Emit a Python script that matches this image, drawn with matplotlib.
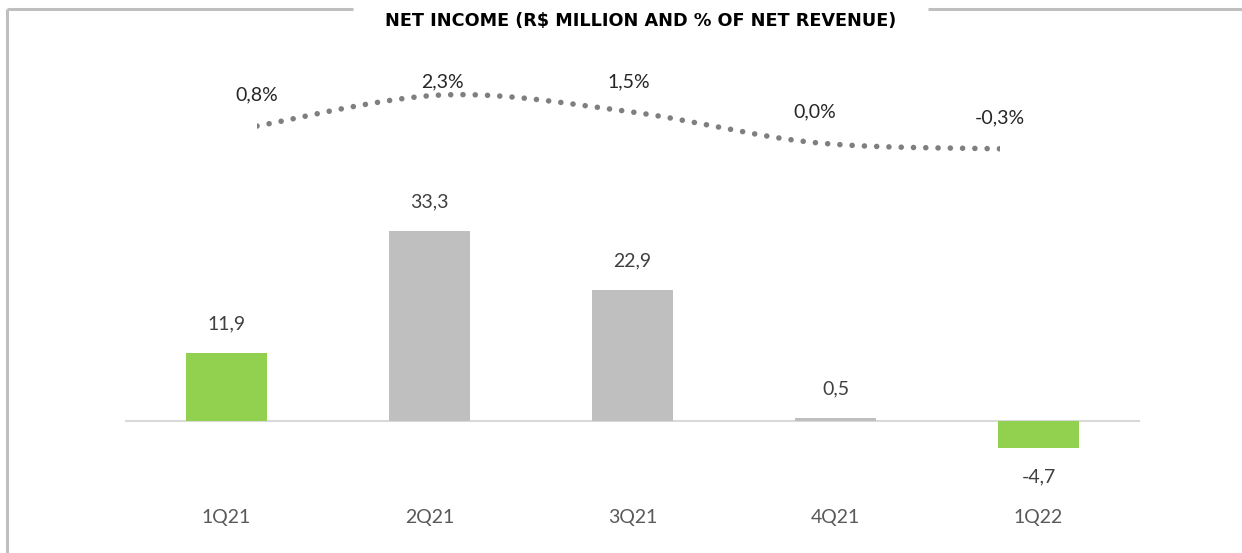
import numpy as np
import matplotlib
matplotlib.use('Agg')
import matplotlib.pyplot as plt

quarters = ['1Q21', '2Q21', '3Q21', '4Q21', '1Q22']
netIncome = [11.9, 33.3, 22.9, 0.5, -4.7]
netMargin = [0.8, 2.3, 1.5, 0.0, -0.3]
barColors = ['#92D050', '#BFBFBF', '#BFBFBF', '#BFBFBF', '#92D050']

plt.rcParams['font.family'] = ['Lato', 'DejaVu Sans']

W, H = 1242, 553
fig = plt.figure(figsize=(W / 100, H / 100), dpi=100)


def pxBox(x0, y0, x1, y1):
    # pixel box (top-left origin) -> figure fraction rect
    return [x0 / W, 1 - y1 / H, (x1 - x0) / W, (y1 - y0) / H]


# frame around the chart
frame = fig.add_axes([0, 0, 1, 1])
frame.set_xlim(0, W)
frame.set_ylim(H, 0)
frame.axis('off')
frame.plot([7, 353], [9, 9], color='#BFBFBF', lw=2.2, solid_capstyle='butt')
frame.plot([928, W], [9, 9], color='#BFBFBF', lw=2.2, solid_capstyle='butt')
frame.plot([7, 7], [9, H], color='#BFBFBF', lw=2.2, solid_capstyle='butt')
frame.text(641, 21, r'NET INCOME (R\$ MILLION AND % OF NET REVENUE)', ha='center', va='center',
           fontsize=12.7, fontweight='bold', color='#000000', family=['DejaVu Sans'])

# bars
ax = fig.add_axes(pxBox(125, 60, 1140, 480))
x = np.arange(len(quarters))
ax.bar(x, netIncome, width=0.40, color=barColors, zorder=2)
ax.axhline(0, color='#D9D9D9', lw=1.5, zorder=1)
ax.set_xlim(-0.5, 4.5)
ax.set_ylim(-(480 - 421) / 5.71, (421 - 60) / 5.71)
for i, v in enumerate(netIncome):
    off = 21 if v >= 0 else -21
    ax.annotate(('%.1f' % v).replace('.', ','), (i, v), xytext=(0, off), textcoords='offset points',
                ha='center', va='center', fontsize=14, color='#404040')
ax.set_xticks(x)
ax.set_xticklabels(quarters, fontsize=14, color='#595959')
ax.tick_params(axis='x', length=0, pad=21)
ax.set_yticks([])
for s in ax.spines.values():
    s.set_visible(False)
ax.patch.set_alpha(0)

# margin line (smoothed, dotted)
lx = fig.add_axes(pxBox(257, 60, 1000, 480))
lx.set_xlim(0, 4)
lx.set_ylim(0.8 - (480 - 126) / 20.7, 0.8 + (126 - 60) / 20.7)
lx.axis('off')
lx.patch.set_alpha(0)

px = np.arange(len(netMargin), dtype=float)
py = np.array(netMargin, dtype=float)
P = np.column_stack([px, py])
P = np.vstack([P[0], P, P[-1]])
xs, ys = [], []
for k in range(1, len(P) - 2):
    p0, p1, p2, p3 = P[k - 1], P[k], P[k + 1], P[k + 2]
    c1 = p1 + (p2 - p0) / 6
    c2 = p2 - (p3 - p1) / 6
    t = np.linspace(0, 1, 40)[:, None]
    seg = (1 - t) ** 3 * p1 + 3 * (1 - t) ** 2 * t * c1 + 3 * (1 - t) * t ** 2 * c2 + t ** 3 * p2
    xs.extend(seg[:, 0])
    ys.extend(seg[:, 1])
lx.plot(xs, ys, color='#7F7F7F', lw=4.0, linestyle=(0, (0.01, 2.2)), dash_capstyle='round')

top = 2.3 + 13 / 20.7
for i, v in enumerate(netMargin):
    ly = min(v + 31 / 20.7, top)
    lx.text(i, ly, ('%.1f%%' % v).replace('.', ','), ha='center', va='center', fontsize=14, color='#262626')

fig.savefig('out.png', dpi=100)
